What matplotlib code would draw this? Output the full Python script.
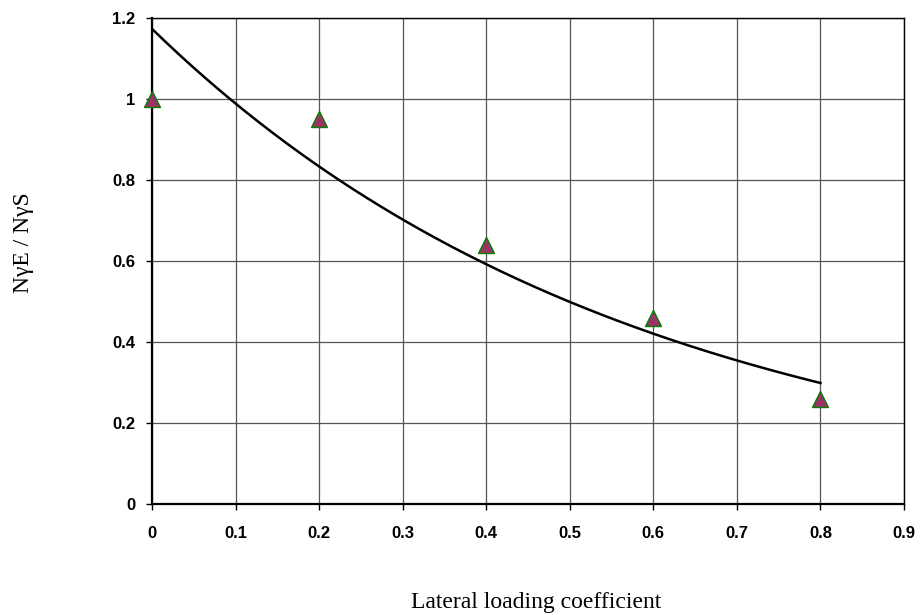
import numpy as np
import matplotlib
matplotlib.use("Agg")
import matplotlib.pyplot as plt

# Measured ratio vs lateral loading coefficient
x_vals = [0.0, 0.2, 0.4, 0.6, 0.8]
y_vals = [1.0, 0.95, 0.64, 0.46, 0.26]

x_ticks = [0, 0.1, 0.2, 0.3, 0.4, 0.5, 0.6, 0.7, 0.8, 0.9]
x_tick_labels = ["0", "0.1", "0.2", "0.3", "0.4", "0.5", "0.6", "0.7", "0.8", "0.9"]
y_ticks = [0, 0.2, 0.4, 0.6, 0.8, 1.0, 1.2]
y_tick_labels = ["0", "0.2", "0.4", "0.6", "0.8", "1", "1.2"]

fig = plt.figure(figsize=(9.22, 6.15), dpi=100)
ax = fig.add_axes([0.1649, 0.1805, 0.8156, 0.7902])

# Exponential trendline fitted to the data
b, a = np.polyfit(x_vals, np.log(y_vals), 1)
xs = np.linspace(min(x_vals), max(x_vals), 200)
ax.plot(xs, np.exp(a) * np.exp(b * xs), color="black", lw=1.8, zorder=3)

ax.plot(x_vals, y_vals, linestyle="none", marker="^", markersize=11,
        markerfacecolor="#993366", markeredgecolor="#008000",
        markeredgewidth=1.0, zorder=4, clip_on=False)

ax.set_xlim(0, 0.9)
ax.set_ylim(0, 1.2)
ax.set_xticks(x_ticks)
ax.set_xticklabels(x_tick_labels)
ax.set_yticks(y_ticks)
ax.set_yticklabels(y_tick_labels)

ax.grid(True, color="#555555", lw=0.9)
ax.set_axisbelow(True)
for s in ["left", "bottom"]:
    ax.spines[s].set_linewidth(1.6)
for s in ["top", "right"]:
    ax.spines[s].set_linewidth(1.0)

ax.tick_params(direction="out", length=4, width=1.0)
for lbl in ax.get_xticklabels() + ax.get_yticklabels():
    lbl.set_fontfamily("Liberation Sans")
    lbl.set_fontweight("bold")
    lbl.set_fontsize(12)
ax.tick_params(axis="y", pad=8)
ax.tick_params(axis="x", pad=12)

fig.text(536 / 922, 1 - 608 / 615, "Lateral loading coefficient",
         ha="center", va="baseline", fontfamily="Liberation Serif", fontsize=17)
fig.text(24 / 922, 1 - 243 / 615, "N\u03b3E / N\u03b3S", rotation=90,
         ha="center", va="center", fontfamily="Liberation Serif", fontsize=17)

fig.savefig("out.png", dpi=100)
